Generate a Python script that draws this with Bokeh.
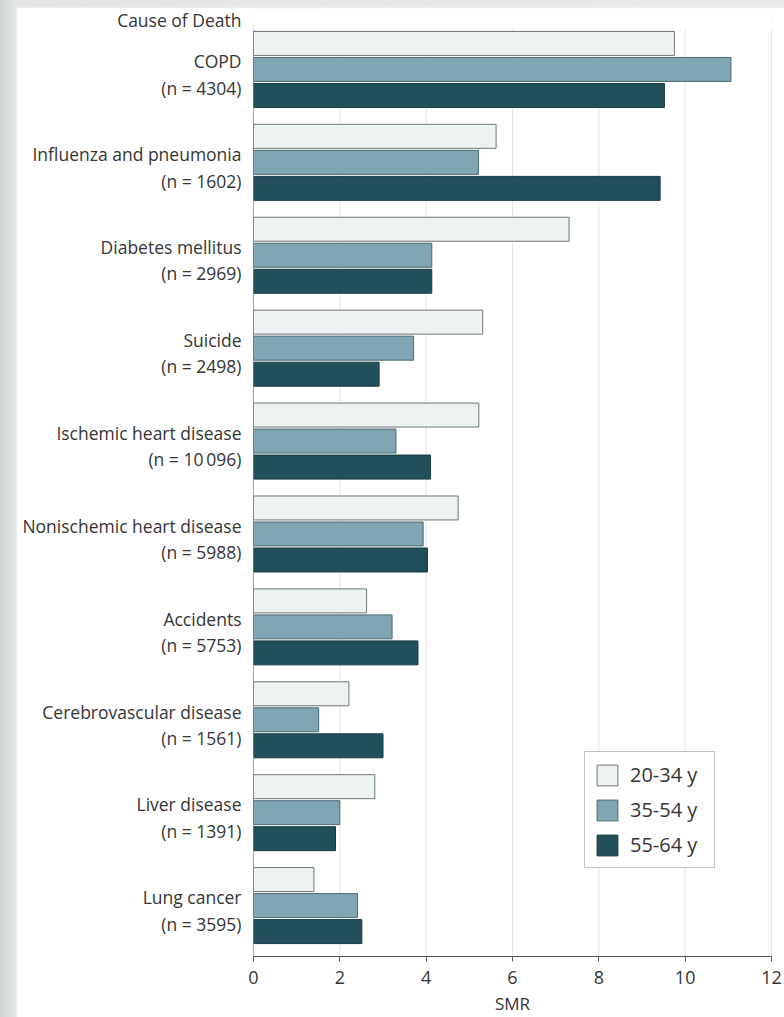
from bokeh.plotting import figure
from bokeh.models import (ColumnDataSource, FixedTicker, LinearAxis, Legend,
                          LegendItem, Range1d)
from bokeh.layouts import column
from bokeh.transform import dodge
from bokeh.embed import file_html
from bokeh.resources import INLINE

# Causes of death, listed top to bottom
causes = ["COPD", "Influenza and pneumonia", "Diabetes mellitus", "Suicide",
          "Ischemic heart disease", "Nonischemic heart disease", "Accidents",
          "Cerebrovascular disease", "Liver disease", "Lung cancer"]
counts = ["4304", "1602", "2969", "2498", "10\u2009096", "5988", "5753",
          "1561", "1391", "3595"]

# Standardized mortality ratio by age group
age_groups = ["20-34 y", "35-54 y", "55-64 y"]
smr_20_34 = [9.75, 5.62, 7.31, 5.31, 5.22, 4.74, 2.62, 2.21, 2.81, 1.40]
smr_35_54 = [11.06, 5.21, 4.13, 3.71, 3.30, 3.93, 3.21, 1.51, 2.00, 2.41]
smr_55_64 = [9.52, 9.42, 4.13, 2.91, 4.10, 4.03, 3.81, 3.00, 1.90, 2.51]

x_ticks = [0, 2, 4, 6, 8, 10, 12]
y_title = "Cause of Death"

FONT = "Open Sans"
TEXT = "#353535"

n = len(causes)
ypos = [n - 1 - i for i in range(n)]
source = ColumnDataSource(dict(y=ypos, cause=causes, a=smr_20_34,
                               b=smr_35_54, c=smr_55_64))

y_lo, y_hi = -0.548, n - 1 + 0.656   # plotting range
bars_top = n - 1 + 0.43              # upper end of axis and grid lines

p = figure(width=768, height=1010, output_backend="svg", toolbar_location=None,
           x_range=Range1d(0, 12), y_range=Range1d(y_lo, y_hi),
           y_axis_location=None,
           min_border_left=237, min_border_right=13, min_border_top=1,
           min_border_bottom=60, background_fill_color="white",
           border_fill_color="white", outline_line_color=None)
p.margin = (7, 0, 0, 16)
p.xgrid.grid_line_color = None
p.ygrid.grid_line_color = None

# vertical grid lines and the value axis line, limited to the bar area
grid_x = x_ticks[1:-1]
p.segment(x0=grid_x, x1=grid_x, y0=[y_lo] * len(grid_x),
          y1=[bars_top] * len(grid_x), line_color="#e4e4e4", line_width=1)
p.segment(x0=[x_ticks[-1]], x1=[x_ticks[-1]], y0=[y_lo], y1=[bars_top],
          line_color="#d2d2d2", line_width=1)

# bars
bar_h = 0.258
step = 0.28
styles = [
    ("a", step, "#edf3f3", "#6e7676"),
    ("b", 0.0, "#80a6b3", "#4c6870"),
    ("c", -step, "#21505b", "#173a42"),
]
renderers = []
for col, off, fill, line in styles:
    r = p.hbar(y=dodge("y", off), right=col, left=0, height=bar_h, source=source,
               fill_color=fill, line_color=line, line_width=1)
    renderers.append(r)

p.segment(x0=[x_ticks[0]], x1=[x_ticks[0]], y0=[y_lo], y1=[bars_top],
          line_color="#555555", line_width=1)

# x axis
p.xaxis.ticker = FixedTicker(ticks=x_ticks)
p.xaxis.axis_label = "SMR"
p.xaxis.axis_label_text_font = FONT
p.xaxis.axis_label_text_font_style = "normal"
p.xaxis.axis_label_text_font_size = "17px"
p.xaxis.axis_label_text_color = TEXT
p.xaxis.axis_label_standoff = 5
p.xaxis.major_label_text_font = FONT
p.xaxis.major_label_text_font_size = "18px"
p.xaxis.major_label_text_color = TEXT
p.xaxis.major_label_standoff = 9
p.xaxis.axis_line_color = "#555555"
p.xaxis.major_tick_line_color = "#555555"
p.xaxis.major_tick_out = 5
p.xaxis.major_tick_in = 0
p.xaxis.minor_tick_line_color = None

# category labels: two lines each, block set slightly below the group centre
shift = 5 / 93
p.extra_y_ranges = {"labels": Range1d(y_lo + shift, y_hi + shift)}
title_pos = n - 1 + 0.6
overrides = {yv: f"{c}\n(n = {k})" for yv, c, k in zip(ypos, causes, counts)}
overrides[title_pos] = y_title
yaxis = LinearAxis(y_range_name="labels",
                   ticker=FixedTicker(ticks=ypos + [title_pos]),
                   major_label_overrides=overrides,
                   axis_line_color=None, major_tick_line_color=None,
                   minor_tick_line_color=None, major_tick_in=0,
                   major_tick_out=0, major_label_standoff=12,
                   major_label_text_font=FONT,
                   major_label_text_font_size="17.5px",
                   major_label_text_color=TEXT,
                   major_label_text_line_height=1.1)
p.add_layout(yaxis, "left")

legend = Legend(items=[LegendItem(label=g, renderers=[r])
                       for g, r in zip(age_groups, renderers)],
                location=(331, 88), glyph_width=26, glyph_height=26,
                label_standoff=10, spacing=8, padding=9, margin=0,
                label_width=75,
                border_line_color="#8a8a8a", border_line_width=1,
                label_text_font=FONT, label_text_font_size="20px",
                label_text_color=TEXT, background_fill_color="white")
p.add_layout(legend)

page = column(p, width=784, height=1017,
              styles={"background": "linear-gradient(90deg, #cfd3d3 0px, "
                                    "#e4e6e6 16px, #e9ebeb 100%)"})

open("out.html", "w").write(file_html(page, INLINE))
